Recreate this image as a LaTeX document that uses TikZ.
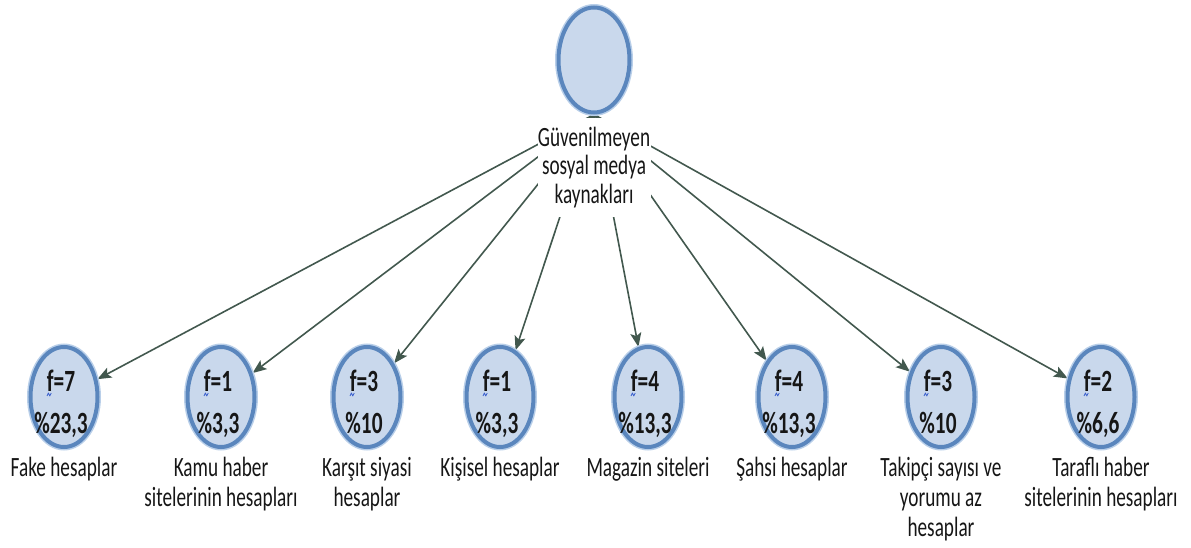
\documentclass[tikz,border=0pt]{standalone}
\usepackage{fontspec}
\setmainfont{Carlito}[FakeStretch=0.69]
\usetikzlibrary{arrows.meta,shapes.geometric,backgrounds}
\definecolor{discfill}{HTML}{C9D8EC}
\definecolor{discline}{HTML}{5A86BD}
\definecolor{discglow}{HTML}{B9CFE9}
\definecolor{linkcol}{HTML}{42584E}
\definecolor{inkcol}{HTML}{161616}
\definecolor{markblue}{HTML}{3A5FCD}
\begin{document}
\begin{tikzpicture}[x=1bp,y=-1bp,
  disc/.style={ellipse, fill=discfill, draw=discline, line width=4bp,
    preaction={draw=discglow, line width=7bp},
    inner sep=0pt, minimum width=67bp, minimum height=100bp},
  topdisc/.style={disc, minimum width=71bp, minimum height=105bp},
  toptext/.style={fill=white, text=inkcol, align=center,
    font=\fontsize{28}{29}\selectfont,
    minimum width=113bp, inner xsep=0pt, inner ysep=9bp},
  valtext/.style={text=inkcol, align=center, inner sep=0pt,
    font=\bfseries\fontsize{31}{42}\selectfont},
  leaftext/.style={text=inkcol, align=center, inner sep=0pt,
    font=\fontsize{28}{30}\selectfont},
  link/.style={draw=linkcol, line width=1.6bp,
    -{Stealth[length=14bp,width=11bp,inset=3bp]}},
  squig/.style={draw=markblue, line width=0.8bp, line join=round}
]
\useasboundingbox (0,0) rectangle (1191,548);

% root of the tree
\node[topdisc] (top) at (594,60) {};
\node[toptext, anchor=north] (src) at ([yshift=-3bp]top.south)
  {Güvenilmeyen\\sosyal medya\\kaynakları};

% the eight categories
\foreach \i/\x/\f/\p/\lab in {
  1/64/7/{\%23,3}/{Fake hesaplar},
  2/221/1/{\%3,3}/{Kamu haber\\sitelerinin hesapları},
  3/367/3/{\%10}/{Karşıt siyasi\\hesaplar},
  4/500/1/{\%3,3}/{Kişisel hesaplar},
  5/648/4/{\%13,3}/{Magazin siteleri},
  6/792/4/{\%13,3}/{Şahsi hesaplar},
  7/941/3/{\%10}/{Takipçi sayısı ve\\yorumu az\\hesaplar},
  8/1101/2/{\%6,6}/{Taraflı haber\\sitelerinin hesapları}}{
  \node[disc] (n\i) at (\x,397) {};
  \node[valtext, anchor=north] (v\i) at (\x-3,370) {f=\f\\\p};
  \draw[squig, shift={(n\i.center)}]
    (-17,-1) -- (-15.6,-4) -- (-14.2,-1) -- (-12.8,-4);
  \node[leaftext, anchor=north] (lab\i) at (\x,457) {\lab};
}

% connectors, kept behind the text and the discs
\begin{pgfonlayer}{background}
  \foreach \i in {1,...,8}
    \draw[link] (top.south) -- (n\i);
\end{pgfonlayer}
\end{tikzpicture}
\end{document}
